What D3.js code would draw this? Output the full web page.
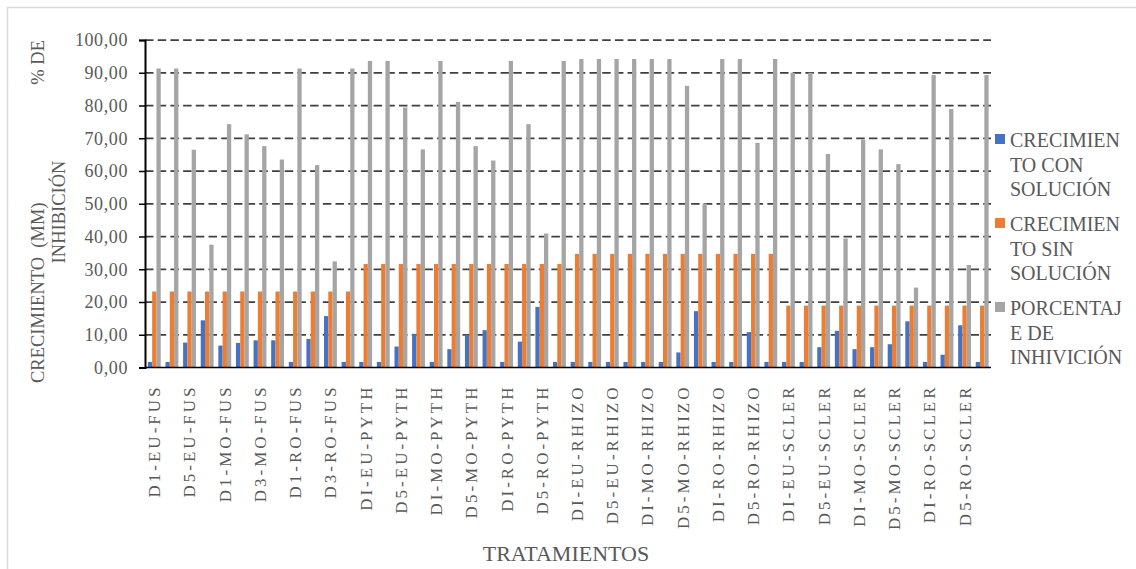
<!DOCTYPE html>
<html>
<head>
<meta charset="utf-8">
<script src="https://cdn.jsdelivr.net/npm/d3@7"></script>
<style>
  body { margin: 0; background: #fff; }
  svg { display: block; }
  text { font-family: "Liberation Serif", "Times New Roman", serif; fill: #595959; }
</style>
</head>
<body>
<svg id="chart" width="1136" height="569"></svg>
<script>
// treatments (only every second label fits on the axis)
let categories = [
  "D1-EU-FUS", "D3-EU-FUS", "D5-EU-FUS", "D7-EU-FUS", "D1-MO-FUS", "D2-MO-FUS",
  "D3-MO-FUS", "D5-MO-FUS", "D1-RO-FUS", "D2-RO-FUS", "D3-RO-FUS", "D5-RO-FUS",
  "DI-EU-PYTH", "D3-EU-PYTH", "D5-EU-PYTH", "D7-EU-PYTH", "DI-MO-PYTH", "D3-MO-PYTH",
  "D5-MO-PYTH", "D7-MO-PYTH", "DI-RO-PYTH", "D3-RO-PYTH", "D5-RO-PYTH", "D7-RO-PYTH",
  "DI-EU-RHIZO", "D3-EU-RHIZO", "D5-EU-RHIZO", "D7-EU-RHIZO", "DI-MO-RHIZO", "D3-MO-RHIZO",
  "D5-MO-RHIZO", "D7-MO-RHIZO", "DI-RO-RHIZO", "D3-RO-RHIZO", "D5-RO-RHIZO", "D7-RO-RHIZO",
  "DI-EU-SCLER", "D3-EU-SCLER", "D5-EU-SCLER", "D7-EU-SCLER", "DI-MO-SCLER", "D3-MO-SCLER",
  "D5-MO-SCLER", "D7-MO-SCLER", "DI-RO-SCLER", "D3-RO-SCLER", "D5-RO-SCLER", "D7-RO-SCLER"
];

let conSolucion = [
  1.7, 1.7, 7.6, 14.4, 6.7, 7.5, 8.3, 8.3, 1.7, 8.7, 15.7, 1.7,
  1.7, 1.7, 6.4, 10.3, 1.7, 5.6, 10.0, 11.4, 1.7, 7.9, 18.5, 1.7,
  1.7, 1.7, 1.7, 1.7, 1.7, 1.7, 4.6, 17.2, 1.7, 1.7, 10.8, 1.7,
  1.7, 1.7, 6.2, 11.2, 5.6, 6.2, 7.1, 14.1, 1.7, 3.9, 12.9, 1.7
];

let sinSolucion = [
  23.2, 23.2, 23.2, 23.2, 23.2, 23.2, 23.2, 23.2, 23.2, 23.2, 23.2, 23.2,
  31.6, 31.6, 31.6, 31.6, 31.6, 31.6, 31.6, 31.6, 31.6, 31.6, 31.6, 31.6,
  34.7, 34.7, 34.7, 34.7, 34.7, 34.7, 34.7, 34.7, 34.7, 34.7, 34.7, 34.7,
  18.9, 18.9, 18.9, 18.9, 18.9, 18.9, 18.9, 18.9, 18.9, 18.9, 18.9, 18.9
];

let inhibicion = [
  91.3, 91.3, 66.5, 37.5, 74.3, 71.2, 67.6, 63.5, 91.3, 61.8, 32.4, 91.3,
  93.6, 93.6, 79.4, 66.6, 93.6, 81.1, 67.6, 63.2, 93.6, 74.3, 40.9, 93.6,
  94.2, 94.2, 94.2, 94.2, 94.2, 94.2, 86.0, 50.1, 94.2, 94.2, 68.6, 94.2,
  90.0, 90.0, 65.2, 39.4, 69.6, 66.6, 62.1, 24.4, 89.3, 78.9, 31.3, 89.3
];

let seriesNames = ["CRECIMIENTO CON SOLUCIÓN", "CRECIMIENTO SIN SOLUCIÓN", "PORCENTAJE DE INHIVICIÓN"];
let legendLines = [
  ["CRECIMIEN", "TO CON", "SOLUCIÓN"],
  ["CRECIMIEN", "TO SIN", "SOLUCIÓN"],
  ["PORCENTAJ", "E DE", "INHIVICIÓN"]
];
let yTicks = [0, 10, 20, 30, 40, 50, 60, 70, 80, 90, 100];

let chart = d3.select("#chart");
let colors = ["#4472C4", "#ED7D31", "#A5A5A5"];

// outer chart border (only top and left are inside the picture)
chart.append("rect")
  .attr("x", 7.5).attr("y", 7.5)
  .attr("width", 1200).attr("height", 600)
  .attr("fill", "none")
  .attr("stroke", "#d9d9d9")
  .attr("stroke-width", 1.5);

// scales
let x = d3.scaleBand()
  .domain(d3.range(categories.length))
  .range([145.5, 991])
  .paddingInner(0.27)
  .paddingOuter(0.135);

let xInner = d3.scaleBand()
  .domain([0, 1, 2])
  .range([0, x.bandwidth()]);

let y = d3.scaleLinear()
  .domain([0, 100])
  .range([367.5, 40]);

let fmt = function(d) { return d3.format(".2f")(d).replace(".", ","); };

// dashed gridlines
chart.append("g")
  .selectAll("line")
  .data(yTicks.slice(1))
  .enter()
  .append("line")
  .attr("x1", 145).attr("x2", 991)
  .attr("y1", function(d) { return y(d); })
  .attr("y2", function(d) { return y(d); })
  .attr("stroke", "#404040")
  .attr("stroke-width", 1.75)
  .attr("stroke-dasharray", "8.5,4.2");

// bars
let table = categories.map(function(c, i) {
  return [conSolucion[i], sinSolucion[i], inhibicion[i]];
});

let groups = chart.append("g")
  .selectAll("g")
  .data(table)
  .enter()
  .append("g")
  .attr("transform", function(d, i) { return "translate(" + x(i) + ",0)"; });

groups.selectAll("rect")
  .data(function(d) { return d; })
  .enter()
  .append("rect")
  .attr("x", function(d, j) { return xInner(j); })
  .attr("y", function(d) { return y(d); })
  .attr("width", xInner.bandwidth())
  .attr("height", function(d) { return y(0) - y(d); })
  .attr("fill", function(d, j) { return colors[j]; });

// y axis
let yAxis = d3.axisLeft(y)
  .tickValues(yTicks)
  .tickFormat(fmt)
  .tickSize(6)
  .tickPadding(11);

let yAxisGroup = chart.append("g")
  .attr("transform", "translate(145,0)")
  .call(yAxis);
yAxisGroup.attr("font-family", null);
yAxisGroup.select(".domain").attr("stroke", "#000").attr("stroke-width", 2);
yAxisGroup.selectAll(".tick line").attr("stroke", "#000").attr("stroke-width", 1.5);
yAxisGroup.selectAll(".tick text")
  .style("font-size", "18px")
  .style("letter-spacing", "0.6px")
  .attr("fill", "#595959");

// x axis
let xAxis = d3.axisBottom(x)
  .tickValues(d3.range(0, categories.length, 2))
  .tickFormat(function(i) { return categories[i]; })
  .tickSize(0)
  .tickSizeOuter(0);

let xAxisGroup = chart.append("g")
  .attr("transform", "translate(0,367.5)")
  .call(xAxis);
xAxisGroup.attr("font-family", null);
xAxisGroup.select(".domain").attr("d", "M145,0H991").attr("stroke", "#000").attr("stroke-width", 1.5);
xAxisGroup.selectAll(".tick text")
  .attr("transform", "rotate(-90)")
  .attr("x", -17)
  .attr("y", 0)
  .attr("dy", "0.35em")
  .attr("text-anchor", "end")
  .style("font-size", "17px")
  .style("letter-spacing", "3px")
  .attr("fill", "#595959");

// axis titles
chart.append("text")
  .text("TRATAMIENTOS")
  .attr("x", 566)
  .attr("y", 561)
  .attr("text-anchor", "middle")
  .style("font-size", "22px");

chart.append("text")
  .text("CRECIMIENTO  (MM)")
  .attr("transform", "translate(44,383) rotate(-90)")
  .attr("text-anchor", "start")
  .style("white-space", "pre")
  .style("font-size", "18.5px");

chart.append("text")
  .text("% DE")
  .attr("transform", "translate(44,40) rotate(-90)")
  .attr("text-anchor", "end")
  .style("font-size", "18.5px");

chart.append("text")
  .text("INHIBICIÓN")
  .attr("transform", "translate(65,212) rotate(-90)")
  .attr("text-anchor", "middle")
  .style("font-size", "18.5px");

// legend
let legend = chart.append("g")
  .selectAll("g")
  .data(seriesNames)
  .enter()
  .append("g")
  .attr("transform", function(d, i) { return "translate(995," + (134 + i * 84) + ")"; });

legend.append("rect")
  .attr("width", 10).attr("height", 10)
  .attr("fill", function(d, i) { return colors[i]; });

legend.each(function(d, i) {
  let g = d3.select(this);
  legendLines[i].forEach(function(line, k) {
    g.append("text")
      .text(line)
      .attr("x", 15)
      .attr("y", 13 + k * 24.5)
      .style("font-size", "20px");
  });
});
</script>
</body>
</html>
